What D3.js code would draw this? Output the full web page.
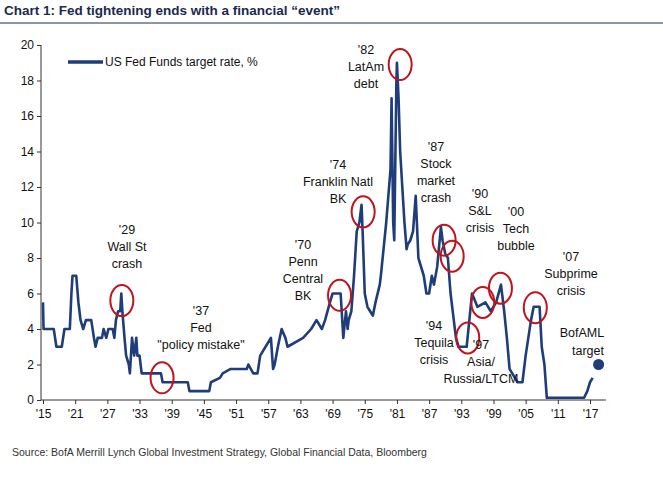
<!DOCTYPE html><html><head><meta charset="utf-8"><script src="https://cdn.jsdelivr.net/npm/d3@7"></script>
<style>body{margin:0;background:#fff}text{font-family:"Liberation Sans",Arial,sans-serif}</style></head><body><svg id="c" width="663" height="481"></svg><script>
const years=[1915,1915.1,1917,1917.5,1918.5,1919,1920,1920.3,1920.5,1921.2,1921.6,1922,1922.5,1923,1924,1924.5,1924.8,1925.2,1926,1926.3,1926.8,1927.2,1928,1928.3,1928.6,1929,1929.4,1929.6,1929.8,1930.2,1930.5,1931,1931.2,1931.6,1932,1932.4,1932.6,1933,1933.4,1937,1937.3,1942,1942.3,1946,1946.3,1948,1948.5,1950,1953,1953.3,1954.2,1955,1955.5,1956.5,1957.5,1957.9,1958.2,1958.8,1959.5,1960.2,1960.6,1963.5,1965,1966,1967,1967.6,1968.5,1969,1970.5,1970.8,1971,1971.5,1971.8,1972,1972.5,1973,1973.5,1974,1974.4,1974.6,1975,1975.5,1976,1976.5,1977,1977.8,1978,1979,1979.8,1980,1980.3,1980.5,1980.9,1981,1981.3,1981.6,1982,1982.4,1982.8,1983,1983.5,1984,1984.5,1985,1986,1986.5,1987,1987.5,1987.9,1988.5,1989.2,1989.5,1990,1990.5,1991,1992,1992.5,1994,1994.5,1995,1996,1997.5,1998.5,1999.5,2000.4,2001,2001.5,2002,2003,2003.5,2004.4,2005,2006,2006.5,2007.6,2008,2008.5,2008.95,2015.9,2016.5,2017,2017.5];
const rates=[5.5,4,4,3,3,4,4,6,7,7,5.5,4.5,4,4.5,4.5,3.5,3,3.5,3.5,4,3.5,4,4,3.5,4.5,5,5,6,5,3.5,2.5,2,1.5,3.5,2.5,3.5,2.5,2.5,1.5,1.5,1,1,0.5,0.5,1,1.25,1.5,1.75,1.75,2,1.5,1.5,2.5,3,3.5,1.75,2,3,4,3.5,3,3.5,4,4.5,4,4.5,5.5,6,6,4.5,3.5,5,4,4.5,5,7,9.5,10,11,9.5,6,5.25,5,4.75,5.5,6.5,7,10,13,17,10,9,18,19,17,14,12,10,8.5,8.75,9,9.5,11.5,8,7,6,6,7,6.5,7.5,9.75,9,8.25,8,6,3.5,3,3,4.5,6,5.25,5.5,5,5.5,6.5,5,3.5,1.75,1.25,1,1,2.5,4.5,5.25,5.25,3,2,0.125,0.125,0.5,1,1.25];
const xTicks=["'15","'21","'27","'33","'39","'45","'51","'57","'63","'69","'75","'81","'87","'93","'99","'05","'11","'17"];
const yTicks=[0,2,4,6,8,10,12,14,16,18,20];
const target={year:2018.6,value:2.0};
const events=[{x:1929.7,y:5.6,lx:127,ly:230,t:["'29","Wall St","crash"]},
{x:1937.2,y:1.25,lx:201,ly:311,t:["'37","Fed","\"policy mistake\""]},
{x:1970.3,y:5.9,lx:303,ly:245,t:["'70","Penn","Central","BK"]},
{x:1974.7,y:10.6,lx:338,ly:165,t:["'74","Franklin Natl","BK"]},
{x:1981.6,y:18.9,lx:366,ly:50,t:["'82","LatAm","debt"]},
{x:1989.8,y:9.0,lx:436,ly:147,t:["'87","Stock","market","crash"]},
{x:1991.3,y:8.1,lx:480,ly:194,t:["'90","S&L","crisis"]},
{x:1994.2,y:3.5,lx:434,ly:326,t:["'94","Tequila","crisis"]},
{x:1997.0,y:5.5,lx:481,ly:345,t:["'97","Asia/","Russia/LTCM"]},
{x:2000.3,y:6.3,lx:516,ly:212,t:["'00","Tech","bubble"]},
{x:2006.8,y:5.2,lx:571,ly:257,t:["'07","Subprime","crisis"]}];
const svg=d3.select("#c");
const x=d3.scaleLinear().domain([1915,2017]).range([43,590]);
const y=d3.scaleLinear().domain([0,20]).range([400,45]);
svg.append("text").attr("x",4).attr("y",15).attr("font-weight","bold").attr("font-size",13.5).attr("fill","#1b2a4e").text("Chart 1: Fed tightening ends with a financial “event”");
svg.append("line").attr("x1",0).attr("x2",663).attr("y1",23).attr("y2",23).attr("stroke","#1b2a4e").attr("stroke-width",1);
const ya=svg.append("g").attr("transform","translate(41,0)").call(d3.axisLeft(y).tickValues(yTicks).tickSize(4).tickSizeOuter(0));
const xa=svg.append("g").attr("transform","translate(0,400)").call(d3.axisBottom(x).tickValues(d3.range(1915,2018,6)).tickFormat((d,i)=>xTicks[i]).tickSize(4).tickSizeOuter(0));
[ya,xa].forEach(a=>{a.selectAll("text").attr("font-size",12).attr("fill","#111");a.selectAll("line,path").attr("stroke","#333");});
xa.select(".domain").attr("d","M41,0H606");ya.select(".domain").attr("d","M0,45V400");
xa.selectAll("text").attr("dy","0.9em");
const pts=years.map((d,i)=>[d,rates[i]]);
svg.append("path").datum(pts).attr("fill","none").attr("stroke","#1f3d7a").attr("stroke-width",2.6).attr("stroke-linejoin","round").attr("d",d3.line().x(d=>x(d[0])).y(d=>y(d[1])));
svg.append("circle").attr("cx",x(target.year)).attr("cy",y(target.value)).attr("r",5.5).attr("fill","#1f3d7a");
events.forEach(e=>{svg.append("ellipse").attr("cx",x(e.x)).attr("cy",y(e.y)).attr("rx",11.5).attr("ry",15.5).attr("fill","none").attr("stroke","#c0141c").attr("stroke-width",2);
 const t=svg.append("text").attr("text-anchor","middle").attr("font-size",12.5).attr("fill","#111");
 e.t.forEach((s,i)=>t.append("tspan").attr("x",e.lx).attr("y",e.ly+4+i*17).text(s));});
const b=svg.append("text").attr("text-anchor","middle").attr("font-size",12.5).attr("fill","#111");
b.append("tspan").attr("x",582).attr("y",337).text("BofAML");b.append("tspan").attr("x",588).attr("y",355).text("target");
svg.append("line").attr("x1",68).attr("x2",103).attr("y1",62).attr("y2",62).attr("stroke","#1f3d7a").attr("stroke-width",3.5);
svg.append("text").attr("x",105).attr("y",66).attr("font-size",12).attr("fill","#111").text("US Fed Funds target rate, %");
svg.append("text").attr("x",12).attr("y",456).attr("font-size",10.5).attr("fill","#333").text("Source:  BofA Merrill Lynch Global Investment Strategy, Global Financial Data, Bloomberg");
</script></body></html>
